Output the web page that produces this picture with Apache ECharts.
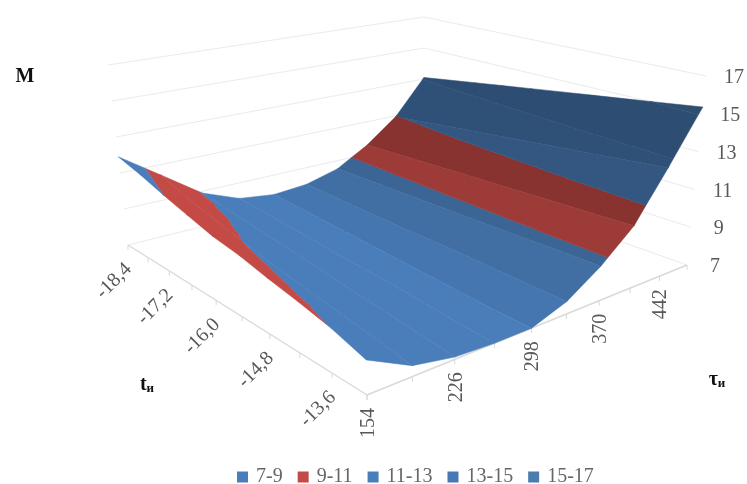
<!DOCTYPE html>
<html>
<head>
<meta charset="utf-8">
<style>html,body{margin:0;padding:0;background:#fff}#chart{width:747px;height:484px}</style>
<script src="https://cdn.jsdelivr.net/npm/echarts@6/dist/echarts.min.js"></script>
</head>
<body>
<div id="chart"></div>
<script>
// Axis categories
const tValues = [-18.4, -17.8, -17.2, -16.6, -16.0, -15.4, -14.8, -14.2, -13.6, -13.0];
const tauValues = [154, 190, 226, 262, 298, 334, 370, 406, 442, 478];
const tTickLabels = ['-18,4', '', '-17,2', '', '-16,0', '', '-14,8', '', '-13,6', ''];
const tauTickLabels = ['154', '', '226', '', '298', '', '370', '', '442', ''];
const mTickLabels = [7, 9, 11, 13, 15, 17];

// M over tau, one row per t value
const mAtT184 = [11.9, 10.4, 8.9, 8.1, 7.85, 8.0, 8.5, 9.55, 10.95, 13.1];
const mAtT178 = [11.5, 9.9, 8.7, 8.0, 7.75, 7.95, 8.52, 9.62, 11.13, 13.35];
const mAtT172 = [11.02, 9.5, 8.5, 7.85, 7.65, 7.9, 8.54, 9.69, 11.32, 13.6];
const mAtT166 = [10.6, 9.15, 8.3, 7.75, 7.55, 7.85, 8.56, 9.75, 11.5, 13.85];
const mAtT160 = [10.2, 8.8, 8.1, 7.6, 7.45, 7.8, 8.58, 9.82, 11.68, 14.1];
const mAtT154 = [9.95, 8.5, 7.9, 7.5, 7.35, 7.8, 8.6, 9.88, 11.87, 14.35];
const mAtT148 = [9.6, 8.25, 7.7, 7.4, 7.25, 7.75, 8.62, 9.95, 12.05, 14.6];
const mAtT142 = [9.3, 8.0, 7.5, 7.25, 7.15, 7.7, 8.65, 10.02, 12.23, 14.85];
const mAtT136 = [8.95, 7.75, 7.3, 7.1, 7.05, 7.65, 8.68, 10.08, 12.42, 15.1];
const mAtT130 = [8.46, 7.47, 7.1, 7.0, 7.0, 7.6, 8.7, 10.15, 12.6, 15.36];
const mRows = [mAtT184, mAtT178, mAtT172, mAtT166, mAtT160, mAtT154, mAtT148, mAtT142, mAtT136, mAtT130];

// Contour bands of the surface
const bandNames = ['7-9', '9-11', '11-13', '13-15', '15-17'];
const bandLows = [7, 9, 11, 13, 15];
const bandHighs = [9, 11, 13, 15, 17];
const bandColors = ['#4a7ebb', '#c44a46', '#4a7ebb', '#4878b4', '#4a7cb0'];

// Outline of the plot box on screen: [t first/tau first, t last/tau first, t last/tau last, t first/tau last]
const floorOutline = [[128, 245], [367, 395], [687, 265], [424, 172]];
const ceilingOutline = [[108, 65], [362, 155], [706, 76], [424, 17]];
const mMin = 7, mMax = 17;

function planeMapper(q) {
  const [p0, p1, p2, p3] = q;
  const dx1 = p1[0] - p2[0], dx2 = p3[0] - p2[0], sx = p0[0] - p1[0] + p2[0] - p3[0];
  const dy1 = p1[1] - p2[1], dy2 = p3[1] - p2[1], sy = p0[1] - p1[1] + p2[1] - p3[1];
  const det = dx1 * dy2 - dx2 * dy1;
  const g = (sx * dy2 - dx2 * sy) / det;
  const h = (dx1 * sy - sx * dy1) / det;
  const a = p1[0] - p0[0] + g * p1[0], b = p3[0] - p0[0] + h * p3[0];
  const d = p1[1] - p0[1] + g * p1[1], e = p3[1] - p0[1] + h * p3[1];
  return (u, v) => {
    const w = 1 + g * u + h * v;
    return [(a * u + b * v + p0[0]) / w, (d * u + e * v + p0[1]) / w];
  };
}
const floorAt = planeMapper(floorOutline);
const ceilingAt = planeMapper(ceilingOutline);
const uOfT = t => (t - tValues[0]) / (tValues[tValues.length - 1] - tValues[0]);
const vOfTau = tau => (tau - tauValues[0]) / (tauValues[tauValues.length - 1] - tauValues[0]);

function project(u, v, m) {
  const k = (m - mMin) / (mMax - mMin);
  const a = floorAt(u, v), b = ceilingAt(u, v);
  return [a[0] + (b[0] - a[0]) * k, a[1] + (b[1] - a[1]) * k];
}

// Sutherland-Hodgman clip of a [u, v, m] polygon against one m limit
function clipByM(poly, limit, keepAbove) {
  const out = [];
  const inside = p => keepAbove ? p[2] >= limit : p[2] <= limit;
  for (let i = 0; i < poly.length; i++) {
    const a = poly[i], b = poly[(i + 1) % poly.length];
    if (inside(a)) out.push(a);
    if (inside(a) !== inside(b)) {
      const s = (limit - a[2]) / (b[2] - a[2]);
      out.push([a[0] + (b[0] - a[0]) * s, a[1] + (b[1] - a[1]) * s, limit]);
    }
  }
  return out;
}

// Mean rise of M across one tau step; strips rising steeply are lit less
function stripSlope(i) {
  return mRows.reduce((sum, row) => sum + row[i + 1] - row[i], 0) / mRows.length;
}
function shadeColor(hex, slope) {
  const f = Math.max(0.64, 1 - 0.16 * Math.max(0, slope));
  const n = parseInt(hex.slice(1), 16);
  const r = Math.round((n >> 16 & 255) * f), g = Math.round((n >> 8 & 255) * f), b = Math.round((n & 255) * f);
  return `rgb(${r},${g},${b})`;
}

// One mark per strip between neighbouring tau values, far strips first
const stripData = [];
for (let i = tauValues.length - 2; i >= 0; i--) stripData.push([i]);

function surfaceSeries(b) {
  return {
    type: 'custom',
    name: bandNames[b],
    coordinateSystem: 'cartesian2d',
    silent: true,
    clip: false,
    z: 3,
    itemStyle: { color: bandColors[b] },
    data: stripData,
    renderItem(params, api) {
      const i = api.value(0);
      const v0 = vOfTau(tauValues[i]), v1 = vOfTau(tauValues[i + 1]);
      const color = shadeColor(bandColors[b], stripSlope(i));
      let d = '';
      for (let j = 0; j < tValues.length - 1; j++) {
        const u0 = uOfT(tValues[j]), u1 = uOfT(tValues[j + 1]);
        const c00 = [u0, v0, mRows[j][i]], c10 = [u1, v0, mRows[j + 1][i]];
        const c11 = [u1, v1, mRows[j + 1][i + 1]], c01 = [u0, v1, mRows[j][i + 1]];
        [[c00, c10, c01], [c10, c11, c01]].forEach(tri => {
          let poly = clipByM(tri, bandLows[b], true);
          if (poly.length) poly = clipByM(poly, bandHighs[b], false);
          if (poly.length < 3) return;
          poly.forEach((p, n) => {
            const c = api.coord(project(p[0], p[1], p[2]));
            d += (n ? 'L' : 'M') + c[0].toFixed(2) + ' ' + c[1].toFixed(2);
          });
          d += 'Z';
        });
      }
      if (!d) return null;
      return {
        type: 'path',
        shape: { pathData: d },
        style: { fill: color, stroke: color, lineWidth: 0.5 }
      };
    }
  };
}

const serif = '"Liberation Serif","Times New Roman",serif';
const labelFont = `20px ${serif}`;
const gridColor = '#ebebeb';
const axisColor = '#d9d9d9';

function textEl(api, pos, text, rotation, extra) {
  const c = api.coord(pos);
  return {
    type: 'text', x: c[0], y: c[1], rotation: rotation || 0,
    style: Object.assign({
      text, font: labelFont, fill: '#595959', textAlign: 'center', textVerticalAlign: 'middle'
    }, extra || {})
  };
}

function lineEl(api, a, b, color, width) {
  const p = api.coord(a), q = api.coord(b);
  return {
    type: 'line',
    shape: { x1: p[0], y1: p[1], x2: q[0], y2: q[1] },
    style: { stroke: color, lineWidth: width, fill: null }
  };
}

const frameSeries = {
  type: 'custom',
  name: 'frame',
  coordinateSystem: 'cartesian2d',
  silent: true,
  clip: false,
  z: 1,
  data: [[0, 0]],
  renderItem(params, api) {
    const kids = [];
    // Level lines on the two rear walls, with their labels
    mTickLabels.forEach(m => {
      const l = project(0, 0, m), b = project(0, 1, m), r = project(1, 1, m);
      kids.push(lineEl(api, l, b, gridColor, 1));
      kids.push(lineEl(api, b, r, gridColor, 1));
      kids.push(textEl(api, [r[0] + 28, r[1] + 2], String(m)));
    });
    // Floor axes, tick marks and slanted tick labels
    kids.push(lineEl(api, project(0, 0, mMin), project(1, 0, mMin), axisColor, 1.4));
    kids.push(lineEl(api, project(1, 0, mMin), project(1, 1, mMin), axisColor, 1.4));
    tValues.forEach((t, n) => {
      const p = project(uOfT(t), 0, mMin);
      kids.push(lineEl(api, p, [p[0], p[1] + 5], axisColor, 1));
      if (tTickLabels[n]) kids.push(textEl(api, [p[0] - 14, p[1] + 36], tTickLabels[n], Math.PI / 4));
    });
    tauValues.forEach((tau, n) => {
      const p = project(1, vOfTau(tau), mMin);
      kids.push(lineEl(api, p, [p[0], p[1] + 5], axisColor, 1));
      if (tauTickLabels[n]) kids.push(textEl(api, [p[0] + 1.5, p[1] + 28], tauTickLabels[n], Math.PI / 2));
    });
    // Axis names
    const rich = {
      b: { font: `bold 20px ${serif}`, fill: '#111' },
      s: { font: `bold 13px ${serif}`, fill: '#111', verticalAlign: 'bottom', padding: [6, 0, 0, 0] }
    };
    kids.push(textEl(api, [25, 77], 'M', 0, { font: `bold 20px ${serif}`, fill: '#111' }));
    kids.push(textEl(api, [147, 385], '{b|t}{s|и}', 0, { rich, fill: '#111' }));
    kids.push(textEl(api, [717, 380], '{b|τ}{s|и}', 0, { rich, fill: '#111' }));
    return { type: 'group', children: kids };
  }
};

const chart = echarts.init(document.getElementById('chart'), null, { renderer: 'canvas' });
chart.setOption({
  animation: false,
  backgroundColor: '#fff',
  grid: { left: 0, right: 0, top: 0, bottom: 0 },
  xAxis: { type: 'value', min: 0, max: 747, show: false },
  yAxis: { type: 'value', min: 0, max: 484, inverse: true, show: false },
  legend: {
    data: bandNames,
    left: 232,
    top: 462,
    icon: 'rect',
    itemWidth: 11,
    itemHeight: 11,
    itemGap: 15,
    selectedMode: false,
    textStyle: { fontFamily: serif, fontSize: 20, color: '#666666', padding: [0, 0, 0, 3] }
  },
  series: [frameSeries].concat(bandNames.map((_, b) => surfaceSeries(b)))
});
</script>
</body>
</html>
